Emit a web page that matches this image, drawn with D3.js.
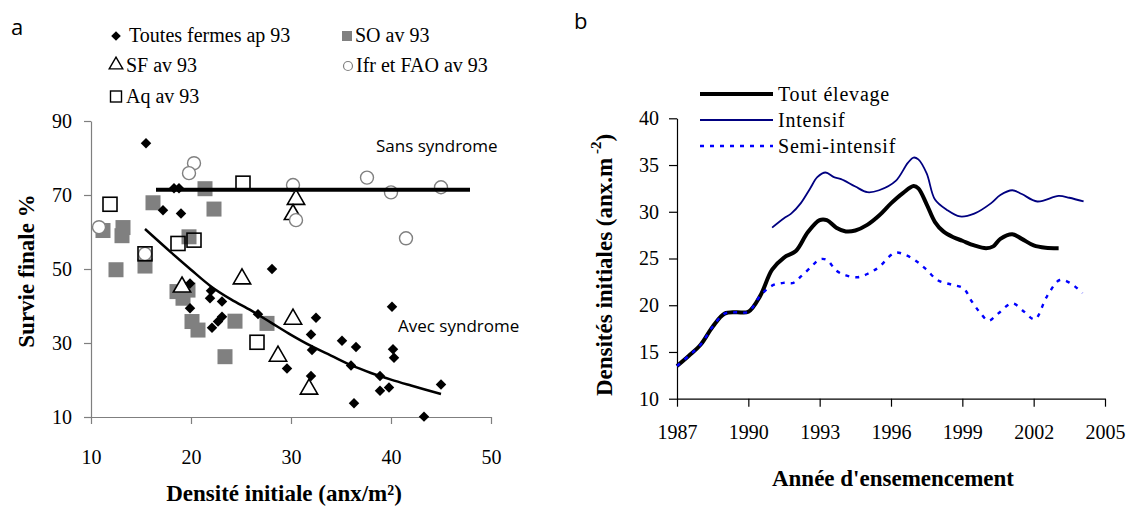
<!DOCTYPE html>
<html>
<head>
<meta charset="utf-8">
<script src="https://cdn.jsdelivr.net/npm/d3@7"></script>
<style>
  body { margin: 0; background: #fff; }
  svg { display: block; }
</style>
</head>
<body>
<svg width="1130" height="506"></svg>
<script>
// ---- panel a : survie finale vs densite initiale ----
// [densite, survie]
const toutesFermes = [[15.5,84.0],[18.3,71.8],[18.8,71.8],[17.2,65.9],[19.0,65.0],[28.1,50.0],[19.9,46.1],
  [22.0,44.1],[21.9,42.1],[23.1,41.2],[19.9,39.4],[23.1,37.1],[22.7,35.8],[22.1,34.1],[26.7,37.8],[29.6,23.1],
  [32.5,36.8],[32.0,32.3],[32.1,28.1],[32.0,21.1],[35.1,30.6],[36.5,28.9],[36.0,23.9],[36.3,13.7],[40.1,39.8],
  [40.2,28.3],[40.3,26.0],[38.9,21.1],[38.9,17.1],[39.8,18.0],[43.3,10.1],[45.0,18.8]];
const soAv93 = [[11.2,60.4],[13.2,61.2],[13.1,59.0],[16.2,67.9],[21.4,71.7],[22.3,66.2],[19.8,58.7],[12.5,49.8],
  [15.4,50.8],[18.6,43.9],[19.7,44.3],[19.2,42.1],[20.1,35.8],[20.7,33.5],[24.4,35.9],[27.6,35.3],[23.4,26.3]];
const sfAv93 = [[19.1,45.4],[25.1,47.6],[28.7,26.7],[30.2,36.7],[31.8,17.8],[30.5,69.1],[30.2,65.0]];
const ifrFaoAv93 = [[10.8,61.3],[15.4,54.1],[20.3,78.6],[19.8,75.9],[30.2,72.7],[30.5,63.2],[37.6,74.7],
  [40.0,70.7],[45.0,72.1],[41.5,58.3]];
const aqAv93 = [[11.9,67.5],[15.4,54.1],[18.7,56.9],[20.3,57.8],[25.2,73.2],[26.6,30.2]];
const sansSyndrome = [[16.5,71.4],[47.9,71.4]];
const avecSyndrome = [[15.4,60.8],[18,54.5],[20,49.8],[22,45.3],[24,41.8],[26,38.8],[28,35.5],[30,32.2],
  [32,29.2],[34,26.6],[36,24.0],[38,21.9],[40,20.1],[42,18.5],[45,16.2]];
const xTicksA = [10,20,30,40,50];
const yTicksA = [10,30,50,70,90];

// ---- panel b : densites initiales par annee ----
const toutYears = [1987,1987.5,1988,1988.5,1989,1989.5,1990,1990.5,1991,1991.5,1992,1992.5,1993,1993.3,1993.7,
  1994.1,1994.5,1995,1995.5,1996,1996.5,1996.95,1997.15,1997.5,1997.85,1998.2,1998.6,1999,1999.5,2000,2000.3,
  2000.6,2001.1,2001.5,2002,2002.5,2003.05];
const toutVals = [13.5,14.6,15.8,17.7,19.1,19.25,19.3,21.0,23.8,25.1,25.8,27.8,29.1,29.1,28.3,
  27.9,28.0,28.6,29.6,30.9,32.0,32.75,32.5,30.8,28.9,27.9,27.3,26.9,26.4,26.1,26.3,
  27.1,27.6,27.1,26.4,26.15,26.1];
const intYears = [1991,1991.5,1991.8,1992.2,1992.6,1992.9,1993.25,1993.6,1993.9,1994.5,1995,1995.5,1996.2,
  1996.7,1996.95,1997.15,1997.5,1997.85,1998.35,1998.9,1999.5,2000.2,2000.6,2001.1,2001.5,2002.15,2003.05,
  2003.5,2004.1];
const intVals = [28.3,29.3,29.8,30.9,32.5,33.7,34.2,33.7,33.5,32.7,32.1,32.3,33.3,
  35.2,35.8,35.6,34.1,31.3,30.2,29.5,29.8,30.9,31.8,32.3,31.9,31.1,31.7,
  31.5,31.1];
const semiYears = [1987,1987.5,1988,1988.5,1989,1989.5,1990,1990.5,1991,1991.5,1991.9,1992.2,1992.6,1993,
  1993.3,1993.7,1994.1,1994.6,1995.05,1995.5,1996.15,1996.6,1997.1,1997.5,1997.95,1998.55,1999.05,1999.4,
  1999.75,2000.1,2000.5,2001.1,2001.6,2002.05,2002.55,2003.1,2003.55,2004.05];
const semiVals = [13.5,14.6,15.8,17.7,19.1,19.25,19.3,21.0,22.1,22.4,22.4,23.05,24.0,24.9,
  24.85,23.7,23.2,23.0,23.4,24.1,25.6,25.4,24.65,23.8,22.7,22.2,21.8,20.4,
  19.2,18.35,19.1,20.2,19.3,18.5,20.9,22.7,22.35,21.3];
const xTicksB = [1987,1990,1993,1996,1999,2002,2005];
const yTicksB = [10,15,20,25,30,35,40];
const legendB = ["Tout élevage", "Intensif", "Semi-intensif"];

const serif = '"Liberation Serif", "Times New Roman", serif';
const sans = '"Open Sans", Lato, sans-serif';
const svg = d3.select("svg").attr("font-family", serif);

svg.append("rect").attr("width", 1130).attr("height", 506).attr("fill", "#fff");

// ================= panel a =================
const xA = d3.scaleLinear().domain([10, 50]).range([91, 491]);
const yA = d3.scaleLinear().domain([10, 90]).range([417, 121]);
const gA = svg.append("g");

function styleAxis(g, color) {
    g.attr("font-family", serif).attr("font-size", 20);
    g.selectAll("path, line").attr("stroke", color).attr("stroke-width", 1.2);
    g.selectAll("text").attr("fill", "#000");
}

gA.append("g")
    .attr("transform", "translate(0," + yA(10) + ")")
    .call(d3.axisBottom(xA).tickValues(xTicksA).tickSize(7).tickSizeOuter(0).tickPadding(26))
    .call(styleAxis, "#7f7f7f");
gA.append("g")
    .attr("transform", "translate(" + xA(10) + ",0)")
    .call(d3.axisLeft(yA).tickValues(yTicksA).tickSize(7).tickSizeOuter(0).tickPadding(12))
    .call(styleAxis, "#7f7f7f");

// markers
gA.selectAll("rect.so").data(soAv93).enter().append("rect")
    .attr("class", "so")
    .attr("x", d => xA(d[0]) - 7.5).attr("y", d => yA(d[1]) - 7.5)
    .attr("width", 15).attr("height", 15)
    .attr("fill", "#808080");

const tri = d3.symbol().type(d3.symbolTriangle).size(130);
gA.selectAll("path.sf").data(sfAv93).enter().append("path")
    .attr("class", "sf")
    .attr("d", tri)
    .attr("transform", d => "translate(" + xA(d[0]) + "," + (yA(d[1]) + 1) + ")")
    .attr("fill", "#fff").attr("stroke", "#000").attr("stroke-width", 1.6);

gA.selectAll("circle.ifr").data(ifrFaoAv93).enter().append("circle")
    .attr("class", "ifr")
    .attr("cx", d => xA(d[0])).attr("cy", d => yA(d[1])).attr("r", 6.5)
    .attr("fill", "#fff").attr("stroke", "#808080").attr("stroke-width", 1.4);

gA.selectAll("rect.aq").data(aqAv93).enter().append("rect")
    .attr("class", "aq")
    .attr("x", d => xA(d[0]) - 7).attr("y", d => yA(d[1]) - 7)
    .attr("width", 14).attr("height", 14)
    .attr("fill", "none").attr("stroke", "#000").attr("stroke-width", 1.6);

gA.selectAll("rect.tf").data(toutesFermes).enter().append("rect")
    .attr("class", "tf")
    .attr("x", -3.7).attr("y", -3.7).attr("width", 7.4).attr("height", 7.4)
    .attr("transform", d => "translate(" + xA(d[0]) + "," + yA(d[1]) + ") rotate(45)")
    .attr("fill", "#000");

// trend lines
const lineA = d3.line().x(d => xA(d[0])).y(d => yA(d[1]));
gA.append("path").datum(sansSyndrome).attr("d", lineA)
    .attr("fill", "none").attr("stroke", "#000").attr("stroke-width", 4);
gA.append("path").datum(avecSyndrome).attr("d", lineA.curve(d3.curveCatmullRom))
    .attr("fill", "none").attr("stroke", "#000").attr("stroke-width", 2.5);

gA.append("text").attr("x", 376).attr("y", 152).attr("font-family", sans).attr("font-size", 17)
    .text("Sans syndrome");
gA.append("text").attr("x", 398).attr("y", 332).attr("font-family", sans).attr("font-size", 17)
    .text("Avec syndrome");

// legend a
const legA = gA.append("g").attr("font-family", serif).attr("font-size", 20);
legA.append("rect").attr("x", -3.4).attr("y", -3.4).attr("width", 6.8).attr("height", 6.8)
    .attr("transform", "translate(116,36) rotate(45)").attr("fill", "#000");
legA.append("text").attr("x", 129).attr("y", 42).text("Toutes fermes ap 93");
legA.append("rect").attr("x", 342).attr("y", 31).attr("width", 10).attr("height", 10).attr("fill", "#808080");
legA.append("text").attr("x", 355).attr("y", 42).text("SO av 93");
legA.append("path").attr("d", d3.symbol().type(d3.symbolTriangle).size(80))
    .attr("transform", "translate(116,65)")
    .attr("fill", "#fff").attr("stroke", "#000").attr("stroke-width", 1.4);
legA.append("text").attr("x", 126).attr("y", 72).text("SF av 93");
legA.append("circle").attr("cx", 348).attr("cy", 66).attr("r", 4.5)
    .attr("fill", "#fff").attr("stroke", "#808080").attr("stroke-width", 1.2);
legA.append("text").attr("x", 356).attr("y", 72).text("Ifr et FAO av 93");
legA.append("rect").attr("x", 110.5).attr("y", 91).attr("width", 11).attr("height", 11)
    .attr("fill", "none").attr("stroke", "#000").attr("stroke-width", 1.4);
legA.append("text").attr("x", 126).attr("y", 103).text("Aq av 93");

// titles a
gA.append("text").attr("x", 284).attr("y", 501).attr("text-anchor", "middle")
    .attr("font-weight", "bold").attr("font-size", 23).text("Densité initiale (anx/m²)");
gA.append("text").attr("transform", "translate(34,271) rotate(-90)").attr("text-anchor", "middle")
    .attr("font-weight", "bold").attr("font-size", 23).text("Survie finale %");
svg.append("text").attr("x", 11).attr("y", 35).attr("font-family", sans).attr("font-size", 22).text("a");

// ================= panel b =================
const xB = d3.scaleLinear().domain([1987, 2005]).range([677, 1105]);
const yB = d3.scaleLinear().domain([10, 40]).range([398.7, 118.3]);
const gB = svg.append("g");

gB.append("g")
    .attr("transform", "translate(0," + yB(10) + ")")
    .call(d3.axisBottom(xB).tickValues(xTicksB).tickFormat(d3.format("d")).tickSize(8).tickSizeOuter(0).tickPadding(18))
    .call(styleAxis, "#000");
gB.append("g")
    .attr("transform", "translate(" + xB(1987) + ",0)")
    .call(d3.axisLeft(yB).tickValues(yTicksB).tickSize(8).tickSizeOuter(0).tickPadding(10))
    .call(styleAxis, "#000");

const lineB = d3.line().curve(d3.curveCatmullRom).x(d => xB(d[0])).y(d => yB(d[1]));
const series = [
    { name: legendB[0], pts: d3.zip(toutYears, toutVals), color: "#000", width: 4, dash: null },
    { name: legendB[1], pts: d3.zip(intYears, intVals), color: "#000080", width: 1.8, dash: null },
    { name: legendB[2], pts: d3.zip(semiYears, semiVals), color: "#0000ff", width: 2.4, dash: "4,6" }
];

series.forEach(function(s) {
    gB.append("path").datum(s.pts).attr("d", lineB)
        .attr("fill", "none").attr("stroke", s.color).attr("stroke-width", s.width)
        .attr("stroke-dasharray", s.dash).attr("stroke-linejoin", "round");
});

const legB = gB.append("g").attr("font-family", serif).attr("font-size", 20);
series.forEach(function(s, i) {
    const y = 94 + i * 26;
    legB.append("line").attr("x1", 700).attr("x2", 773).attr("y1", y).attr("y2", y)
        .attr("stroke", s.color).attr("stroke-width", s.width).attr("stroke-dasharray", s.dash);
    legB.append("text").attr("x", 778).attr("y", y + 7).attr("letter-spacing", 0.8).text(s.name);
});

gB.append("text").attr("x", 893).attr("y", 486).attr("text-anchor", "middle")
    .attr("font-weight", "bold").attr("font-size", 23).text("Année d'ensemencement");
const yt = gB.append("text").attr("transform", "translate(612,265) rotate(-90)").attr("text-anchor", "middle")
    .attr("font-weight", "bold").attr("font-size", 23);
yt.append("tspan").text("Densités initiales (anx.m");
yt.append("tspan").attr("dy", -11).attr("font-size", 15).text(" -2");
yt.append("tspan").attr("dy", 11).text(")");
svg.append("text").attr("x", 574).attr("y", 29).attr("font-family", sans).attr("font-size", 22).text("b");
</script>
</body>
</html>
